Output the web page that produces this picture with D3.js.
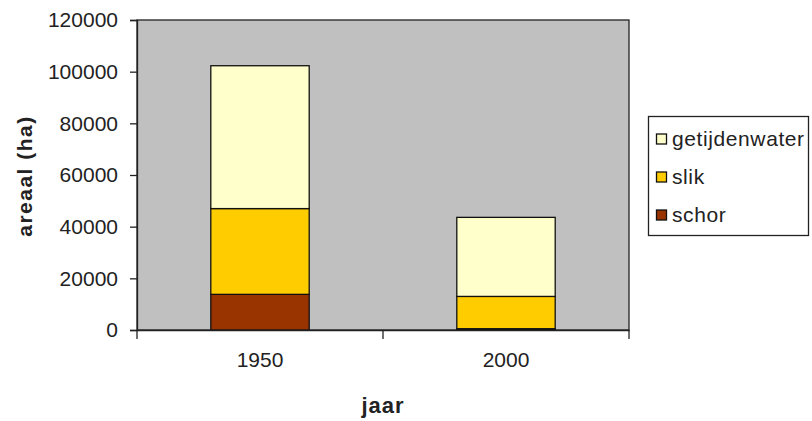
<!DOCTYPE html>
<html>
<head>
<meta charset="utf-8">
<script src="https://cdn.jsdelivr.net/npm/d3@7"></script>
<style>
  html, body { margin: 0; padding: 0; background: #fff; }
  svg { display: block; font-family: "Liberation Sans", Arial, sans-serif; }
</style>
</head>
<body>
<svg id="chart" width="812" height="421"></svg>
<script>
const years = ["1950", "2000"];
const seriesNames = ["schor", "slik", "getijdenwater"];
const schor = [13800, 500];
const slik = [33200, 12500];
const getijdenwater = [55300, 30600];
const yTicks = [0, 20000, 40000, 60000, 80000, 100000, 120000];
const colors = ["#993300", "#ffcc00", "#ffffcc"];
const legendOrder = ["getijdenwater", "slik", "schor"];

const rows = years.map((y, i) => ({ year: y, schor: schor[i], slik: slik[i], getijdenwater: getijdenwater[i] }));
const stack = d3.stack().keys(seriesNames)(rows);

const svg = d3.select("#chart");
const pLeft = 137, pRight = 629, pTop = 20, pBottom = 330;

const x = d3.scaleBand().domain(years).range([pLeft, pRight]).paddingInner(0.6).paddingOuter(0.3);
const xCat = d3.scaleBand().domain(years).range([pLeft, pRight]);
const y = d3.scaleLinear().domain([0, 120000]).range([pBottom, pTop]);
const color = d3.scaleOrdinal().domain(seriesNames).range(colors);

// plot area
svg.append("rect").attr("x", pLeft).attr("y", pTop).attr("width", pRight - pLeft).attr("height", pBottom - pTop)
  .attr("fill", "#c0c0c0").attr("stroke", "#222").attr("stroke-width", 1.3);

// bars
svg.append("g").selectAll("g").data(stack).join("g")
  .attr("fill", d => color(d.key))
  .selectAll("rect").data(d => d).join("rect")
  .attr("x", d => x(d.data.year))
  .attr("width", x.bandwidth())
  .attr("y", d => y(d[1]))
  .attr("height", d => y(d[0]) - y(d[1]))
  .attr("stroke", "#111").attr("stroke-width", 1.3);

// y axis
const yAxis = d3.axisLeft(y).tickValues(yTicks).tickSize(7).tickPadding(12).tickFormat(d3.format("d"));
const gy = svg.append("g").attr("transform", `translate(${pLeft},0)`).call(yAxis);
gy.select(".domain").attr("stroke", "#222").attr("stroke-width", 1.3);
gy.selectAll(".tick line").attr("stroke", "#222").attr("stroke-width", 1.3);
gy.selectAll("text").attr("font-size", 21).attr("fill", "#222").attr("font-family", "Liberation Sans, Arial, sans-serif");

// x axis
const gx = svg.append("g").attr("transform", `translate(0,${pBottom})`)
  .call(d3.axisBottom(xCat).tickSize(0).tickPadding(22));
gx.select(".domain").attr("stroke", "#222").attr("stroke-width", 1.3);
gx.selectAll("text").attr("font-size", 21).attr("fill", "#222").attr("font-family", "Liberation Sans, Arial, sans-serif");
// category separator ticks
const sepTicks = [pLeft, ...years.map(c => xCat(c) + xCat.bandwidth())];
svg.append("g").selectAll("line").data(sepTicks).join("line")
  .attr("x1", d => d).attr("x2", d => d).attr("y1", pBottom).attr("y2", pBottom + 9)
  .attr("stroke", "#222").attr("stroke-width", 1.3);

// axis titles
svg.append("text").attr("x", 383).attr("y", 413).attr("text-anchor", "middle")
  .attr("font-size", 22).attr("font-weight", "bold").attr("letter-spacing", 1).attr("fill", "#222").text("jaar");
svg.append("text").attr("transform", "translate(32,176) rotate(-90)").attr("text-anchor", "middle")
  .attr("font-size", 21).attr("font-weight", "bold").attr("letter-spacing", 1.5).attr("fill", "#222").text("areaal (ha)");

// legend
const lg = svg.append("g");
lg.append("rect").attr("x", 648.5).attr("y", 116.5).attr("width", 160).attr("height", 119)
  .attr("fill", "#fff").attr("stroke", "#222").attr("stroke-width", 1.3);
const item = lg.selectAll("g.item").data(legendOrder).join("g").attr("class", "item")
  .attr("transform", (d, i) => `translate(0,${139 + i * 38})`);
item.append("rect").attr("x", 656.5).attr("y", -5).attr("width", 10).attr("height", 10)
  .attr("fill", d => color(d)).attr("stroke", "#111").attr("stroke-width", 1.3);
item.append("text").attr("x", 672).attr("y", 7).attr("font-size", 21).attr("letter-spacing", 0.6)
  .attr("fill", "#222").text(d => d);
</script>
</body>
</html>
